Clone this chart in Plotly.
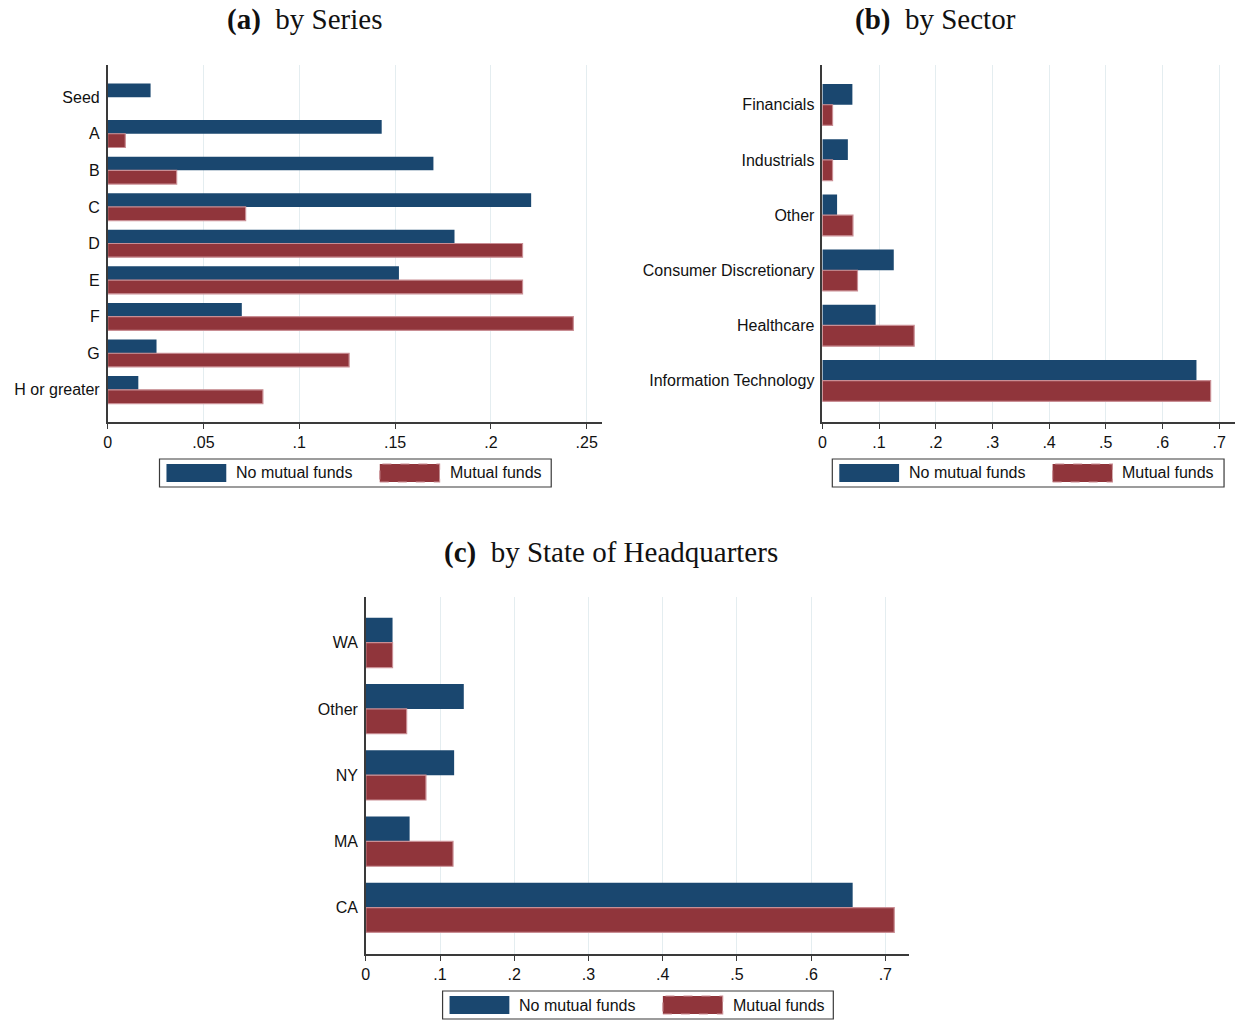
import plotly.graph_objects as go

# ---------------- data ----------------
series_cats = ["Seed", "A", "B", "C", "D", "E", "F", "G", "H or greater"]
series_no_mf = [0.0224, 0.143, 0.170, 0.221, 0.181, 0.152, 0.070, 0.0255, 0.016]
series_mf = [None, 0.0092, 0.036, 0.072, 0.2165, 0.2165, 0.243, 0.126, 0.081]
series_ticks = [0, 0.05, 0.1, 0.15, 0.2, 0.25]
series_ticklabels = ["0", ".05", ".1", ".15", ".2", ".25"]

sector_cats = ["Financials", "Industrials", "Other", "Consumer Discretionary",
               "Healthcare", "Information Technology"]
sector_no_mf = [0.053, 0.045, 0.026, 0.126, 0.094, 0.660]
sector_mf = [0.018, 0.018, 0.054, 0.062, 0.162, 0.685]

state_cats = ["WA", "Other", "NY", "MA", "CA"]
state_no_mf = [0.036, 0.132, 0.119, 0.059, 0.656]
state_mf = [0.036, 0.055, 0.081, 0.1175, 0.712]

share_ticks = [0, 0.1, 0.2, 0.3, 0.4, 0.5, 0.6, 0.7]
share_ticklabels = ["0", ".1", ".2", ".3", ".4", ".5", ".6", ".7"]

legend_names = ["No mutual funds", "Mutual funds"]
panel_titles = ["<b>(a)</b>  by Series", "<b>(b)</b>  by Sector",
                "<b>(c)</b>  by State of Headquarters"]

# ---------------- style ----------------
W, H = 1237, 1021
BLUE = "#1a476f"
RED = "#90353b"
RED_EDGE = "#c98e94"
AXIS = "#3a3a3a"
GRID = "#e4edf0"
FONT = "Liberation Sans, Arial, sans-serif"
SERIF = "Liberation Serif, Times New Roman, serif"
FS = 16


def px_x(v):
    return v / W


def px_y(v):
    return 1 - v / H


fig = go.Figure()

panels = [
    dict(cats=series_cats, a=series_no_mf, b=series_mf, xs="x", ys="y"),
    dict(cats=sector_cats, a=sector_no_mf, b=sector_mf, xs="x2", ys="y2"),
    dict(cats=state_cats, a=state_no_mf, b=state_mf, xs="x3", ys="y3"),
]
for p in panels:
    fig.add_trace(go.Bar(y=p["cats"], x=p["a"], orientation="h", name=legend_names[0],
                         marker=dict(color=BLUE, line=dict(width=0)),
                         xaxis=p["xs"], yaxis=p["ys"], showlegend=False))
    fig.add_trace(go.Bar(y=p["cats"], x=p["b"], orientation="h", name=legend_names[1],
                         marker=dict(color=RED, line=dict(color=RED_EDGE, width=1.2)),
                         xaxis=p["xs"], yaxis=p["ys"], showlegend=False))

common_x = dict(showline=True, linecolor=AXIS, linewidth=1.5, ticks="outside",
                ticklen=5, tickcolor=AXIS, tickwidth=1, showgrid=True,
                gridcolor=GRID, gridwidth=1, zeroline=False,
                tickfont=dict(family=FONT, size=FS, color="#111"))
common_y = dict(showline=True, linecolor=AXIS, linewidth=1.5, ticks="",
                showgrid=False, zeroline=False, type="category",
                ticklabelstandoff=3,
                tickfont=dict(family=FONT, size=FS, color="#111"))

fig.update_layout(
    width=W, height=H,
    margin=dict(l=0, r=0, t=0, b=0),
    paper_bgcolor="white", plot_bgcolor="white",
    barmode="group", bargap=0.25, bargroupgap=0,
    showlegend=False,
    xaxis=dict(common_x, domain=[px_x(104), px_x(600)], range=[0, 0.258],
               tickvals=series_ticks, ticktext=series_ticklabels, anchor="y"),
    yaxis=dict(common_y, domain=[px_y(422), px_y(65)], range=[8.88, -0.88], anchor="x"),
    xaxis2=dict(common_x, domain=[px_x(821), px_x(1235)], range=[0, 0.728],
                tickvals=share_ticks, ticktext=share_ticklabels, anchor="y2"),
    yaxis2=dict(common_y, domain=[px_y(422), px_y(65)], range=[5.75, -0.72], anchor="x2"),
    xaxis3=dict(common_x, domain=[px_x(363), px_x(908)], range=[0, 0.732],
                tickvals=share_ticks, ticktext=share_ticklabels, anchor="y3"),
    yaxis3=dict(common_y, domain=[px_y(954), px_y(597)], range=[4.70, -0.69], anchor="x3"),
)

# titles
for (cx, cy), t in zip([(301, 20), (935, 20), (609, 552)], panel_titles):
    fig.add_annotation(x=px_x(cx), y=px_y(cy), xref="paper", yref="paper",
                       text=t, showarrow=False, xanchor="center", yanchor="middle",
                       font=dict(family=SERIF, size=29, color="#111"))

# legends (boxes drawn per panel)
legend_boxes = [(156, 549, 459, 487), (831, 1224, 459, 487), (440, 832, 991, 1019)]
for (x0, x1, y0, y1) in legend_boxes:
    fig.add_shape(type="rect", xref="paper", yref="paper",
                  x0=px_x(x0), x1=px_x(x1), y0=px_y(y1), y1=px_y(y0),
                  line=dict(color=AXIS, width=1.2), fillcolor="white")
    ym0, ym1 = y0 + 5, y1 - 5
    # blue swatch
    fig.add_shape(type="rect", xref="paper", yref="paper",
                  x0=px_x(x0 + 7), x1=px_x(x0 + 67), y0=px_y(ym1), y1=px_y(ym0),
                  line=dict(width=0), fillcolor=BLUE)
    fig.add_annotation(x=px_x(x0 + 75), y=px_y((y0 + y1) / 2), xref="paper", yref="paper",
                       text=legend_names[0], showarrow=False, xanchor="left",
                       yanchor="middle", font=dict(family=FONT, size=FS, color="#111"))
    # red swatch
    fig.add_shape(type="rect", xref="paper", yref="paper",
                  x0=px_x(x0 + 221), x1=px_x(x0 + 281), y0=px_y(ym1), y1=px_y(ym0),
                  line=dict(width=1.2, color=RED_EDGE, dash="dash"), fillcolor=RED)
    fig.add_annotation(x=px_x(x0 + 289), y=px_y((y0 + y1) / 2), xref="paper", yref="paper",
                       text=legend_names[1], showarrow=False, xanchor="left",
                       yanchor="middle", font=dict(family=FONT, size=FS, color="#111"))

fig.write_html("out.html")
